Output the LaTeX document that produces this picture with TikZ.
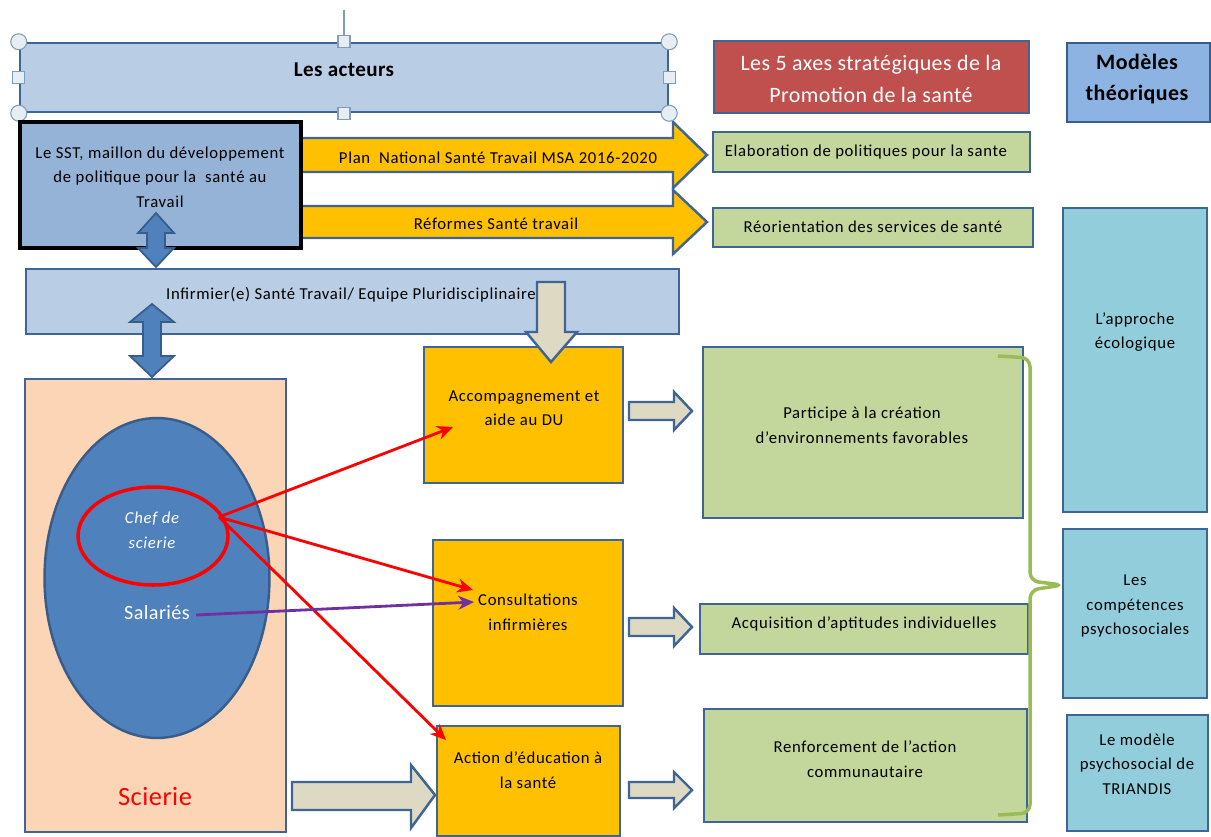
\documentclass[tikz,border=0pt]{standalone}
\usepackage{fontspec}
\setmainfont{Carlito}
\newfontfamily\lblfont[LetterSpace=4]{Carlito}
\newfontfamily\hdfont[LetterSpace=2]{Carlito}
\usetikzlibrary{shapes.geometric,fit,arrows.meta}

\definecolor{edgeblue}{HTML}{3F6596}
\definecolor{actblue}{HTML}{B9CDE5}
\definecolor{sstblue}{HTML}{95B3D7}
\definecolor{gold}{HTML}{FFC000}
\definecolor{beige}{HTML}{DDD9C3}
\definecolor{leaf}{HTML}{C3D69B}
\definecolor{brick}{HTML}{C0504D}
\definecolor{modblue}{HTML}{8DB3E2}
\definecolor{aqua}{HTML}{92CDDC}
\definecolor{peach}{HTML}{FBD5B5}
\definecolor{ovalblue}{HTML}{4F81BD}
\definecolor{ovaledge}{HTML}{385D8A}
\definecolor{bracegreen}{HTML}{9BBB59}
\definecolor{violet}{HTML}{7030A0}
\definecolor{handlefill}{HTML}{E6EEF4}
\definecolor{handleedge}{HTML}{7F9DB9}

\begin{document}
\begin{tikzpicture}[x=0.02cm,y=-0.02cm]
	\tikzstyle{every node}+=[inner sep=0pt]
	\tikzstyle{box}=[draw=edgeblue, line width=1.4pt]
	\tikzstyle{lbl}=[align=center, font=\lblfont\fontsize{9.5}{14}\selectfont]
	\tikzstyle{head}=[align=center, font=\hdfont\fontsize{12.5}{18}\selectfont]
	\tikzstyle{hcirc}=[circle, draw=handleedge, fill=handlefill, line width=0.6pt, minimum size=0.32cm]
	\tikzstyle{hsq}=[rectangle, draw=handleedge, fill=handlefill, line width=0.6pt, minimum size=0.24cm]
	\tikzstyle{redarrow}=[red, line width=1.6pt, -{Stealth[length=9pt,width=8pt]}]
	\useasboundingbox (0,0) rectangle (1211,836);
	% yellow arrows behind the SST box
	\draw [box, fill=gold] (301,138) -- (673,138) -- (673,122) -- (707,155) -- (673,188) -- (673,172) -- (301,172) -- cycle;
	\draw [box, fill=gold] (301,206) -- (673,206) -- (673,190) -- (707,222) -- (673,254) -- (673,238) -- (301,238) -- cycle;
	\node [lbl] (plan) at (498,158) {Plan\ \ National Santé Travail MSA 2016-2020};
	\node [lbl] (reformes) at (496,224) {Réformes Santé travail};
	% left column
	\coordinate (rot) at (344,10);
	\node [box, fill=actblue, fit={(20,43) (668,112)}] (acteurs) {};
	\node [font=\hdfont\bfseries\fontsize{12}{14}\selectfont] at (344,70) {Les acteurs};
	\draw [handleedge, line width=0.8pt] (rot) -- (acteurs.north);
	\node [hcirc] (h1) at (acteurs.north west) {};
	\node [hcirc] (h2) at (acteurs.north east) {};
	\node [hcirc] (h3) at (acteurs.south west) {};
	\node [hcirc] (h4) at (acteurs.south east) {};
	\node [hsq] (h5) at (acteurs.north) {};
	\node [hsq] (h6) at (acteurs.south) {};
	\node [hsq] (h7) at (acteurs.west) {};
	\node [hsq] (h8) at (acteurs.east) {};
	\node [draw=black, line width=2pt, fill=sstblue, fit={(20,122) (301,248)}] (sst) {};
	\node [lbl] (ssttext) at (160,177) {Le SST, maillon du développement\\de politique pour la\ \ santé au\\Travail};
	\node [box, fill=actblue, fit={(26,269) (679,334)}] (infirmier) {};
	\node [lbl] (inftext) at (351,295) {Infirmier(e) Santé Travail/ Equipe Pluridisciplinaire};
	\node [box, fill=peach, fit={(25,379) (286,832)}] (scierie) {};
	\node [font=\hdfont\fontsize{15}{17}\selectfont, text=red] (sciertext) at (155,797) {Scierie};
	\node [ellipse, draw=ovaledge, line width=1.4pt, fill=ovalblue, minimum width=4.5cm, minimum height=6.4cm] (salaries) at (157,578) {};
	\node [ellipse, draw=red, line width=2pt, minimum width=3cm, minimum height=1.96cm] (chef) at (153,536) {};
	\node [lbl, text=white, font=\lblfont\itshape\fontsize{9.5}{14}\selectfont] (cheftext) at (152,530) {Chef de\\scierie};
	\node [text=white, font=\hdfont\fontsize{11.5}{13}\selectfont] (saltext) at (157,613) {Salariés};
	% blue double arrows
	\draw [ovaledge, line width=1pt, fill=ovalblue] (156,213) -- (174,233) -- (165,233) -- (165,248) -- (174,248) -- (156,267) -- (138,248) -- (147,248) -- (147,233) -- (138,233) -- cycle;
	\draw [ovaledge, line width=1pt, fill=ovalblue] (152,304) -- (174,322) -- (161,322) -- (161,356) -- (174,356) -- (152,377) -- (130,356) -- (143,356) -- (143,322) -- (130,322) -- cycle;
	% nurse actions
	\node [box, fill=gold, fit={(424,347) (623,483)}] (accomp) {};
	\node [lbl] (accomptext) at (524,408) {Accompagnement et\\aide au DU};
	\node [box, fill=gold, fit={(433,540) (623,706)}] (consult) {};
	\node [lbl] (consulttext) at (528,612) {Consultations\\infirmières};
	\node [box, fill=gold, fit={(437,726) (620,836)}] (actions) {};
	\node [lbl] (actionstext) at (528,770) {Action d’éducation à\\la santé};
	\draw [box, fill=beige] (537,282) -- (565,282) -- (565,332) -- (577,332) -- (551,362) -- (526,332) -- (537,332) -- cycle;
	\draw [box, fill=beige] (292,782) -- (411,782) -- (411,765) -- (435,795) -- (411,828) -- (411,810) -- (292,810) -- cycle;
	\draw [box, fill=beige] (629,402) -- (674,402) -- (674,392) -- (692,411) -- (674,430) -- (674,420) -- (629,420) -- cycle;
	\draw [box, fill=beige] (629,618) -- (674,618) -- (674,608) -- (692,627) -- (674,646) -- (674,636) -- (629,636) -- cycle;
	\draw [box, fill=beige] (629,782) -- (674,782) -- (674,772) -- (692,790) -- (674,808) -- (674,798) -- (629,798) -- cycle;
	% red and violet arrows
	\coordinate (chefout) at (219,517);
	\coordinate (salout) at (196,615);
	\coordinate (accin) at (453,427);
	\coordinate (consin) at (473,590);
	\coordinate (consin2) at (474,602);
	\coordinate (actin) at (446,740);
	\draw [redarrow] (chefout) -- (accin);
	\draw [redarrow] (chefout) -- (consin);
	\draw [redarrow] (chefout) -- (actin);
	\draw [violet, line width=1.6pt, -{Stealth[length=9pt,width=8pt]}] (salout) -- (consin2);
	% 5 axes
	\node [box, fill=brick, fit={(714,41) (1029,113)}] (axes) {};
	\node [head, text=white] (axestext) at (871,79) {Les 5 axes stratégiques de la\\Promotion de la santé};
	\node [box, fill=leaf, fit={(713,132) (1030,172)}] (elabo) {};
	\node [lbl] (elabotext) at (866,152) {Elaboration de politiques pour la sante};
	\node [box, fill=leaf, fit={(713,208) (1033,247)}] (reorient) {};
	\node [lbl] (reorienttext) at (873,227) {Réorientation des services de santé};
	\node [box, fill=leaf, fit={(703,347) (1023,518)}] (partic) {};
	\node [lbl] (partictext) at (862,425) {Participe à la création\\d’environnements favorables};
	\node [box, fill=leaf, fit={(700,604) (1028,654)}] (acquis) {};
	\node [lbl] (acquistext) at (864,624) {Acquisition d’aptitudes individuelles};
	\node [box, fill=leaf, fit={(704,709) (1027,822)}] (renfor) {};
	\node [lbl] (renfortext) at (865,759) {Renforcement de l’action\\communautaire};
	% theoretical models
	\node [draw=ovaledge, line width=1.4pt, fill=modblue, fit={(1067,43) (1210,122)}] (modeles) {};
	\node [head, font=\hdfont\bfseries\fontsize{12.5}{18}\selectfont] (modtext) at (1137,79) {Modèles\\théoriques};
	\node [box, fill=aqua, fit={(1063,208) (1207,512)}] (approche) {};
	\node [lbl] (approtext) at (1135,332) {L’approche\\écologique};
	\node [box, fill=aqua, fit={(1063,529) (1207,698)}] (compet) {};
	\node [lbl] (compettext) at (1135,606) {Les\\compétences\\psychosociales};
	\node [box, fill=aqua, fit={(1067,715) (1208,831)}] (triandis) {};
	\node [lbl] (triantext) at (1137,764) {Le modèle\\psychosocial de\\TRIANDIS};
	% brace
	\coordinate (btop) at (998,356);
	\coordinate (bbot) at (998,815);
	\draw [bracegreen, line width=2pt, rounded corners=5pt] (btop) -- (1030,358) -- (1030,581) -- (1063,585) -- (1030,590) -- (1030,813) -- (bbot);
\end{tikzpicture}
\end{document}
